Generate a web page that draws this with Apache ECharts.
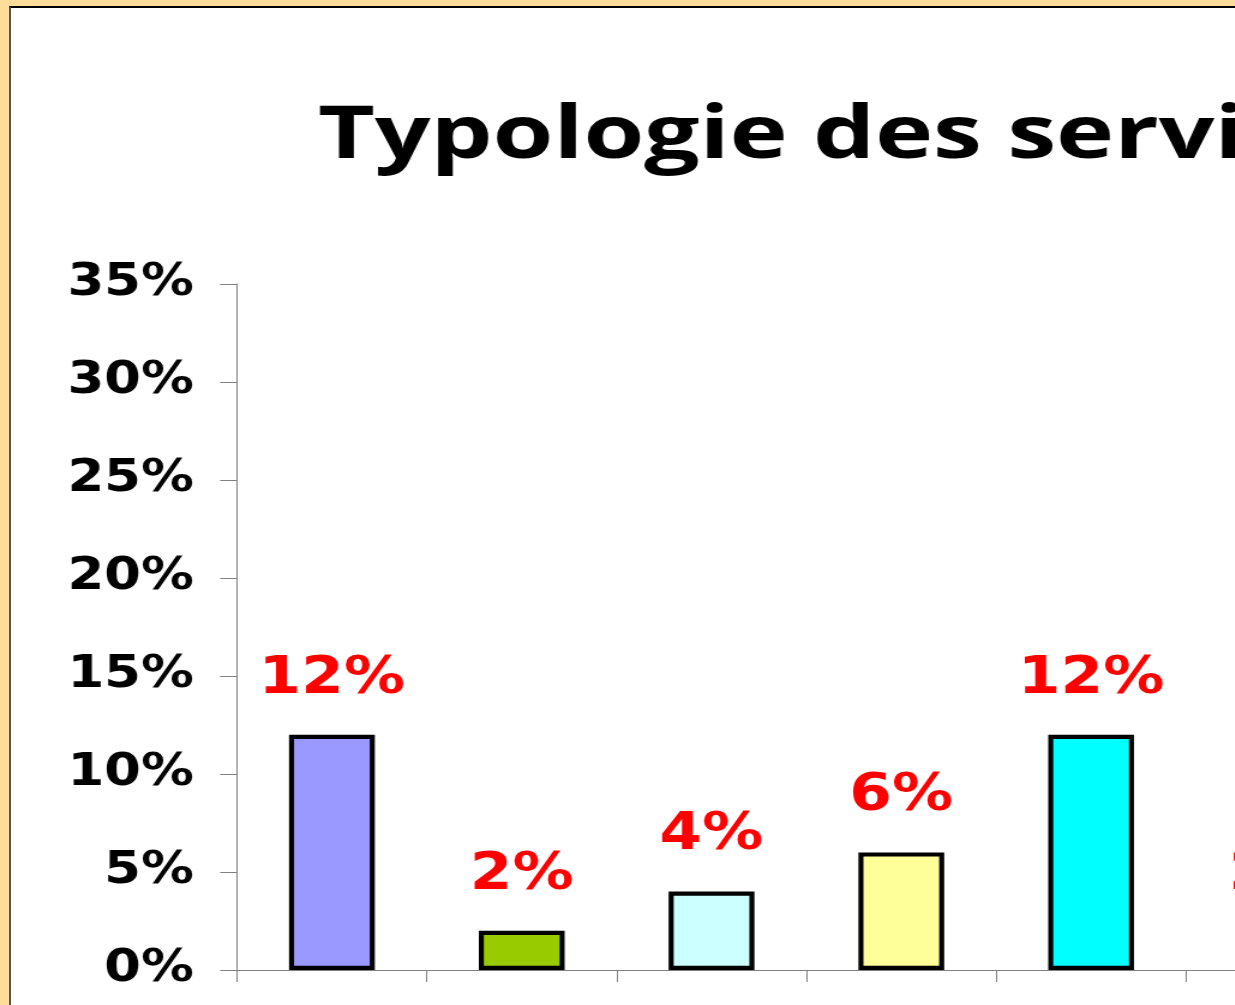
<!DOCTYPE html>
<html>
<head>
<meta charset="utf-8">
<script src="https://cdn.jsdelivr.net/npm/echarts@6/dist/echarts.min.js"></script>
<style>
  html, body { margin: 0; padding: 0; width: 1235px; height: 1005px; overflow: hidden; background: #ffdc9a; }
  #frame { position: absolute; left: 9px; top: 6px; width: 1300px; height: 1100px; background: #fff;
           border-top: 2px solid #000; border-left: 2px solid #555; }
  /* the source picture is stretched sideways, so the chart is drawn narrower and widened */
  #chart { position: absolute; left: 0; top: 0; width: 1200px; height: 1005px;
           transform: scaleX(1.2); transform-origin: 0 0; }
</style>
</head>
<body>
<div id="frame"></div>
<div id="chart"></div>
<script>
const titleText  = 'Typologie des services'
const categories = ['1', '2', '3', '4', '5', '6']
const values     = [12, 2, 4, 6, 12, 2]
const barColors  = ['#9999ff', '#99cc00', '#ccffff', '#ffff99', '#00ffff', '#ff8080']
const yMax = 35
const yStep = 5

const chart = echarts.init(document.getElementById('chart'), null, { renderer: 'canvas' })

chart.setOption({
  backgroundColor: 'transparent',
  animation: false,
  graphic: [{
    // title is stretched even wider than the rest in the source
    type: 'text', x: 265, y: 100, scaleX: 1.105,
    style: { text: titleText, fill: '#000', font: 'bold 74px "Open Sans"', verticalAlign: 'top' }
  }],
  grid: { left: 197.5, top: 284, right: 53.5, bottom: 35, containLabel: false },
  xAxis: {
    type: 'category', data: categories,
    axisLine: { lineStyle: { color: '#808080', width: 1 } },
    axisTick: { show: true, length: 12, lineStyle: { color: '#808080' } },
    axisLabel: { show: false }
  },
  yAxis: {
    type: 'value', min: 0, max: yMax, interval: yStep,
    axisLine: { show: true, lineStyle: { color: '#808080', width: 1 } },
    axisTick: { show: true, length: 14, lineStyle: { color: '#808080' } },
    splitLine: { show: false },
    axisLabel: { margin: 36, color: '#000', fontFamily: 'DejaVu Sans', fontWeight: 'bold', fontSize: 44, formatter: '{value}%' }
  },
  series: [{
    type: 'bar',
    barWidth: 71.5,
    data: values.map((v, i) => ({ value: v, itemStyle: { color: barColors[i] } })),
    itemStyle: { borderColor: '#000', borderWidth: 4.2 },
    label: {
      show: true, position: 'top', distance: 30,
      color: '#ff0000', fontFamily: 'DejaVu Sans', fontWeight: 'bold', fontSize: 51,
      formatter: '{c}%'
    }
  }]
})
</script>
</body>
</html>
